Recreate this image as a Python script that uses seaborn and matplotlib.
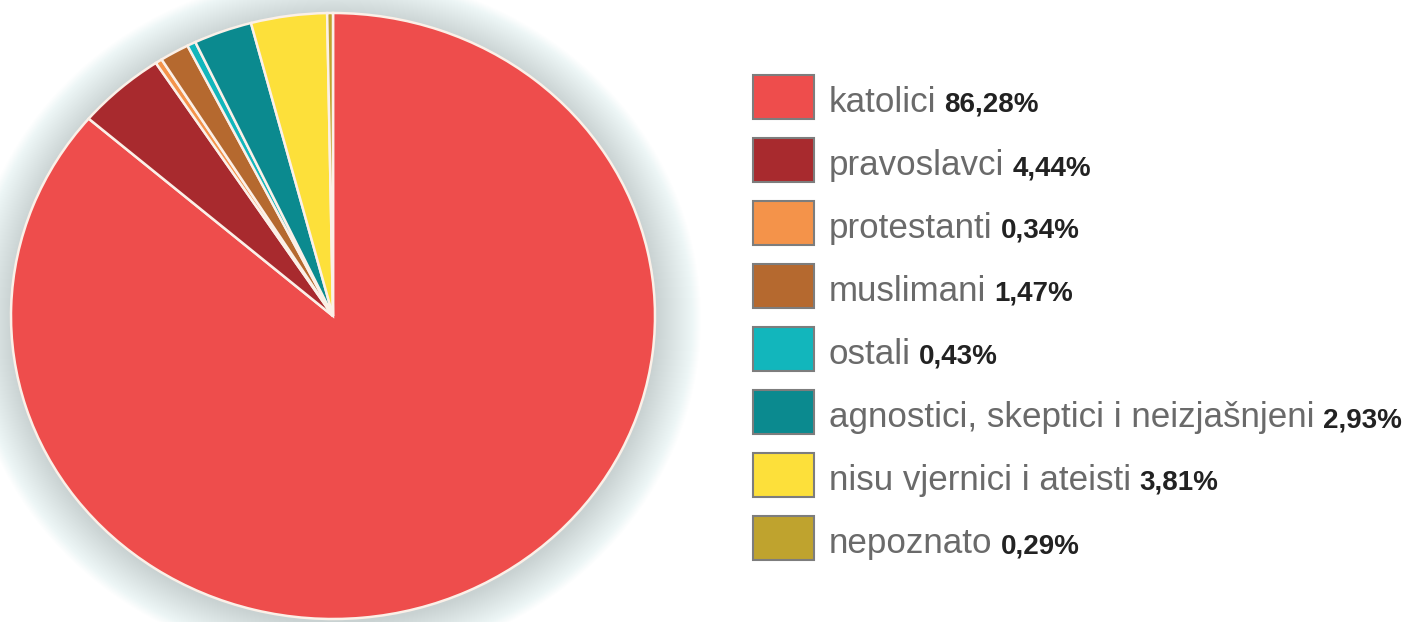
import matplotlib
matplotlib.use('Agg')
import matplotlib.pyplot as plt
import seaborn as sns
from matplotlib.patches import Ellipse, Rectangle

# podaci - vjerska struktura
kategorije = ['katolici', 'pravoslavci', 'protestanti', 'muslimani', 'ostali',
              'agnostici, skeptici i neizjašnjeni', 'nisu vjernici i ateisti', 'nepoznato']
postotci = [86.28, 4.44, 0.34, 1.47, 0.43, 2.93, 3.81, 0.29]
oznake_postotaka = ['86,28%', '4,44%', '0,34%', '1,47%', '0,43%', '2,93%', '3,81%', '0,29%']
boje = ['#ee4d4c', '#a82a2e', '#f4934a', '#b5692f', '#12b6bc', '#0b8a8f', '#fde03a', '#bfa32e']

sns.set_theme(style='white')
plt.rcParams['font.family'] = ['Liberation Sans', 'DejaVu Sans']

W, H = 1409, 622
fig = plt.figure(figsize=(W / 100, H / 100), dpi=100)
fig.patch.set_facecolor('white')

# os u pikselima, y skala rastegnuta da pita bude malo spljostena
rx, ry = 322, 303
sy = rx / ry
ax = fig.add_axes([0, 0, 1, 1])
cx, cy = 333, (H - 316) * sy

# meka sjena oko pite
for k in range(45, 0, -1):
    r = rx + k * 1.0
    ax.add_patch(Ellipse((cx + 1, cy - 3), 2 * r, 2 * r,
                         color='#6f8080', alpha=0.008, lw=0, zorder=0))

ax.pie(postotci, colors=boje, startangle=90, counterclock=False, radius=rx,
       center=(cx, cy), wedgeprops=dict(edgecolor='#fbf0e8', linewidth=1.8))
ax.set_aspect('auto')
ax.set_xlim(0, W)
ax.set_ylim(0, H * sy)
ax.axis('off')

# legenda - kvadrati i tekst
x0, y0, korak = 753, 75, 63
fig.canvas.draw()
renderer = fig.canvas.get_renderer()
for i, (ime, pct, boja) in enumerate(zip(kategorije, oznake_postotaka, boje)):
    top = y0 + i * korak
    fig.add_artist(Rectangle((x0 / W, 1 - (top + 44) / H), 61 / W, 44 / H,
                             transform=fig.transFigure, facecolor=boja,
                             edgecolor='#7d7d7d', linewidth=1.5))
    base = 1 - (top + 37) / H
    t = fig.text(829 / W, base, ime, fontsize=25.2, color='#6a6a6a', va='baseline')
    bb = t.get_window_extent(renderer=renderer)
    fig.text((bb.x1 + 8) / W, base, pct, fontsize=20, fontweight='bold',
             color='#222222', va='baseline')

fig.savefig('out.png', dpi=100, facecolor='white')
